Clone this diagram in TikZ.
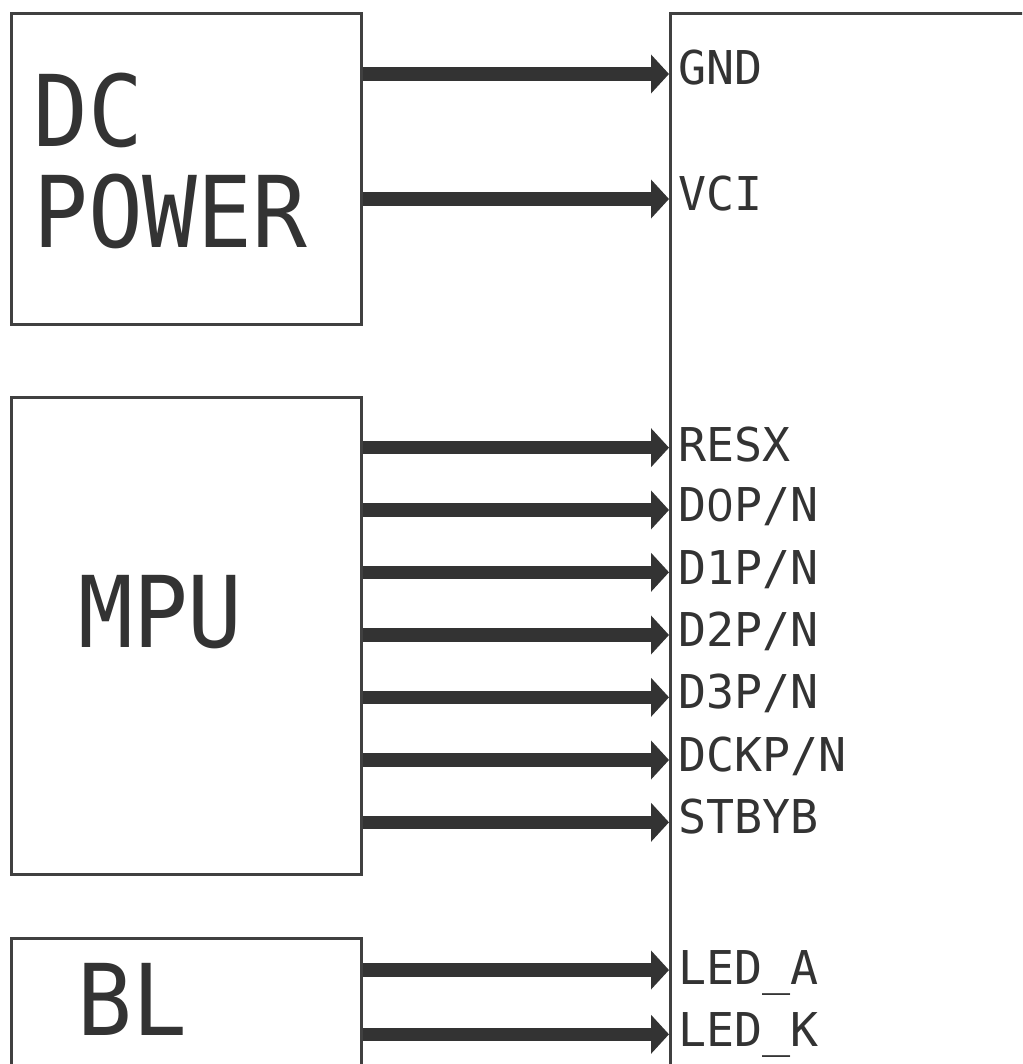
\documentclass[tikz,border=0pt]{standalone}
\usepackage{fontspec}
\usetikzlibrary{arrows.meta}
\newfontfamily\lblfont{DejaVu Sans Mono}
\newfontfamily\zerofont{Liberation Sans}
\newfontfamily\bigfont[FakeStretch=0.92]{DejaVu Sans Mono}
\newcommand{\plainzero}{\makebox[0.602em]{\zerofont 0}}
\definecolor{ink}{HTML}{333333}
\definecolor{edge}{HTML}{404040}
\begin{document}
\begin{tikzpicture}[x=1pt,y=-1pt,
  box/.style={draw=edge,line width=3pt,fill=white,inner sep=0pt,anchor=north west},
  bus/.style={draw=ink,line width=13.5pt,-{Triangle[length=18pt,width=38pt]}},
  pin/.style={anchor=base west,inner sep=0pt,text=ink,font=\lblfont\fontsize{46.6}{50}\selectfont},
  title/.style={anchor=base west,inner sep=0pt,text=ink,font=\bigfont\fontsize{99}{100}\selectfont}]
\useasboundingbox (0,0) rectangle (1022,1064);
\clip (0,0) rectangle (1022,1064);
\fill[white] (0,0) rectangle (1022,1064);
% boxes
\node[box,minimum width=350pt,minimum height=311pt] (dc) at (10,12) {};
\node[box,minimum width=350pt,minimum height=477pt] (mpu) at (10,396) {};
\node[box,minimum width=350pt,minimum height=200pt] (bl) at (10,937) {};
\node[box,minimum width=400pt,minimum height=1100pt] (chip) at (669,12) {};
% box titles
\node[title] (tdc) at (33,147) {DC};
\node[title] (tpow) at (33,248) {POWER};
\node[title] (tmpu) at (78,647) {MPU};
\node[title] (tbl) at (77,1035) {BL};
% pin points on the chip
\coordinate (pGND) at (669,74);
\coordinate (pVCI) at (669,199);
\coordinate (pRESX) at (669,447.7);
\coordinate (pD0) at (669,510);
\coordinate (pD1) at (669,572.3);
\coordinate (pD2) at (669,635);
\coordinate (pD3) at (669,697.3);
\coordinate (pDCK) at (669,760);
\coordinate (pSTB) at (669,822.3);
\coordinate (pLA) at (669,970);
\coordinate (pLK) at (669,1034.3);
% buses
\draw[bus] (dc.east |- pGND) -- (pGND);
\draw[bus] (dc.east |- pVCI) -- (pVCI);
\draw[bus] (mpu.east |- pRESX) -- (pRESX);
\draw[bus] (mpu.east |- pD0) -- (pD0);
\draw[bus] (mpu.east |- pD1) -- (pD1);
\draw[bus] (mpu.east |- pD2) -- (pD2);
\draw[bus] (mpu.east |- pD3) -- (pD3);
\draw[bus] (mpu.east |- pDCK) -- (pDCK);
\draw[bus] (mpu.east |- pSTB) -- (pSTB);
\draw[bus] (bl.east |- pLA) -- (pLA);
\draw[bus] (bl.east |- pLK) -- (pLK);
% pin labels
\node[pin] (lGND) at (678,85) {GND};
\node[pin] (lVCI) at (678,211) {VCI};
\node[pin] (lRESX) at (678,461.7) {RESX};
\node[pin] (lD0) at (678,521.7) {D\plainzero P/N};
\node[pin] (lD1) at (678,584) {D1P/N};
\node[pin] (lD2) at (678,646.7) {D2P/N};
\node[pin] (lD3) at (678,708.3) {D3P/N};
\node[pin] (lDCK) at (678,771) {DCKP/N};
\node[pin] (lSTB) at (678,833.3) {STBYB};
\node[pin] (lLA) at (678,984) {LED\_A};
\node[pin] (lLK) at (678,1046.7) {LED\_K};
\end{tikzpicture}
\end{document}
